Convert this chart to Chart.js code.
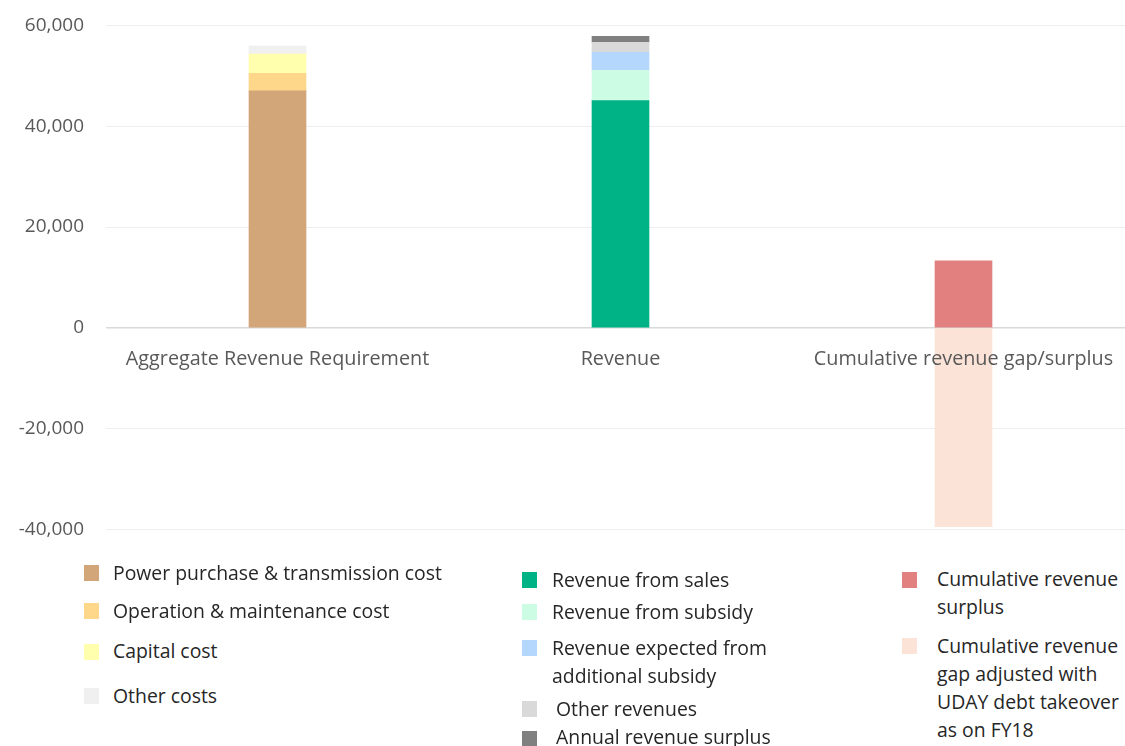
<!DOCTYPE html>
<html>
<head>
<meta charset="utf-8">
<script src="https://cdn.jsdelivr.net/npm/chart.js@4/dist/chart.umd.min.js"></script>
<style>
  html, body { margin: 0; padding: 0; background: #fff; overflow: hidden; width: 1125px; height: 746px; }
  #wrap { position: relative; width: 1125px; height: 746px; overflow: hidden; }
  #chart { position: absolute; left: 0; top: -8px; }
  .lg-box { position: absolute; width: 15px; height: 16px; }
  .lg-txt { position: absolute; font-family: "Open Sans", sans-serif; font-size: 19.4px; line-height: 28px; color: #262626; white-space: nowrap; }
</style>
</head>
<body>
<div id="wrap">
  <canvas id="chart" width="1140" height="571"></canvas>
  <div id="legend"></div>
</div>
<script>
// 类别
const categories = ['Aggregate Revenue Requirement', 'Revenue', 'Cumulative revenue gap/surplus'];

// 各系列数值 (按类别顺序)
const powerPurchase   = [47000, null, null];
const operationMaint  = [3500, null, null];
const capitalCost     = [3800, null, null];
const otherCosts      = [1600, null, null];
const revenueSales    = [null, 45100, null];
const revenueSubsidy  = [null, 6000, null];
const revenueExpected = [null, 3550, null];
const otherRevenues   = [null, 2000, null];
const annualSurplus   = [null, 1200, null];
const cumSurplus      = [null, null, 13300];
const cumGapUday      = [null, null, -39400];

const seriesNames = [
  'Power purchase & transmission cost',
  'Operation & maintenance cost',
  'Capital cost',
  'Other costs',
  'Revenue from sales',
  'Revenue from subsidy',
  'Revenue expected from additional subsidy',
  'Other revenues',
  'Annual revenue surplus',
  'Cumulative revenue surplus',
  'Cumulative revenue gap adjusted with UDAY debt takeover as on FY18'
];
const seriesValues = [powerPurchase, operationMaint, capitalCost, otherCosts,
  revenueSales, revenueSubsidy, revenueExpected, otherRevenues, annualSurplus,
  cumSurplus, cumGapUday];
const seriesColors = ['#d3a679', '#ffd78a', '#ffffad', '#f0f0f0',
  '#00b386', '#ccfde4', '#b4d7fe', '#d9d9d9', '#808080',
  '#e27f7f', '#fbe4d7'];

// 刻度
const yMin = -40000, yMax = 60000, yStep = 20000;

const datasets = seriesNames.map((name, i) => ({
  label: name,
  data: seriesValues[i],
  backgroundColor: seriesColors[i],
  borderWidth: 0,
  stack: 's',
  barThickness: 57
}));

const chart = new Chart(document.getElementById('chart').getContext('2d'), {
  type: 'bar',
  data: { labels: categories, datasets: datasets },
  options: {
    responsive: false,
    animation: false,
    layout: { padding: { top: 7, right: 5, bottom: 8, left: 0 } },
    plugins: { legend: { display: false }, tooltip: { enabled: false } },
    scales: {
      x: {
        stacked: true,
        position: { y: 0 },
        grid: { display: false, drawTicks: false },
        border: { display: false },
        ticks: {
          z: 1,
          color: '#595959', padding: 20, maxRotation: 0, autoSkip: false,
          font: { family: 'Open Sans', size: 19.8 }
        }
      },
      y: {
        stacked: true,
        min: yMin, max: yMax,
        afterFit: s => { s.width = 106; },
        grid: {
          drawTicks: false,
          color: c => c.tick && c.tick.value === 0 ? '#d9d9d9' : '#eeeeee',
          lineWidth: c => c.tick && c.tick.value === 0 ? 1.5 : 1
        },
        border: { display: false },
        ticks: {
          stepSize: yStep,
          padding: 22,
          color: '#595959',
          font: { family: 'Open Sans', size: 19 },
          callback: v => v.toLocaleString('en-US')
        }
      }
    }
  }
});

// 图例布局 (位置与样式)
const legendLayout = [
  { box: [84, 565],  text: [113, 559] },
  { box: [84, 603],  text: [113, 597] },
  { box: [84, 644],  text: [113, 637] },
  { box: [84, 688],  text: [113, 682] },
  { box: [522, 572], text: [552, 566] },
  { box: [522, 604], text: [552, 598] },
  { box: [522, 640], text: [552, 634], width: 230 },
  { box: [522, 701], text: [556, 695] },
  { box: [522, 731], text: [556, 723] },
  { box: [902, 572], text: [937, 565], width: 192 },
  { box: [902, 638], text: [937, 632], width: 192 }
];

const legendEl = document.getElementById('legend');
chart.data.datasets.forEach((ds, i) => {
  const L = legendLayout[i];
  const box = document.createElement('div');
  box.className = 'lg-box';
  box.style.left = L.box[0] + 'px';
  box.style.top = L.box[1] + 'px';
  box.style.background = ds.backgroundColor;
  legendEl.appendChild(box);
  const txt = document.createElement('div');
  txt.className = 'lg-txt';
  txt.style.left = L.text[0] + 'px';
  txt.style.top = L.text[1] + 'px';
  if (L.width) { txt.style.whiteSpace = 'normal'; txt.style.width = L.width + 'px'; }
  txt.textContent = ds.label;
  legendEl.appendChild(txt);
});
</script>
</body>
</html>
